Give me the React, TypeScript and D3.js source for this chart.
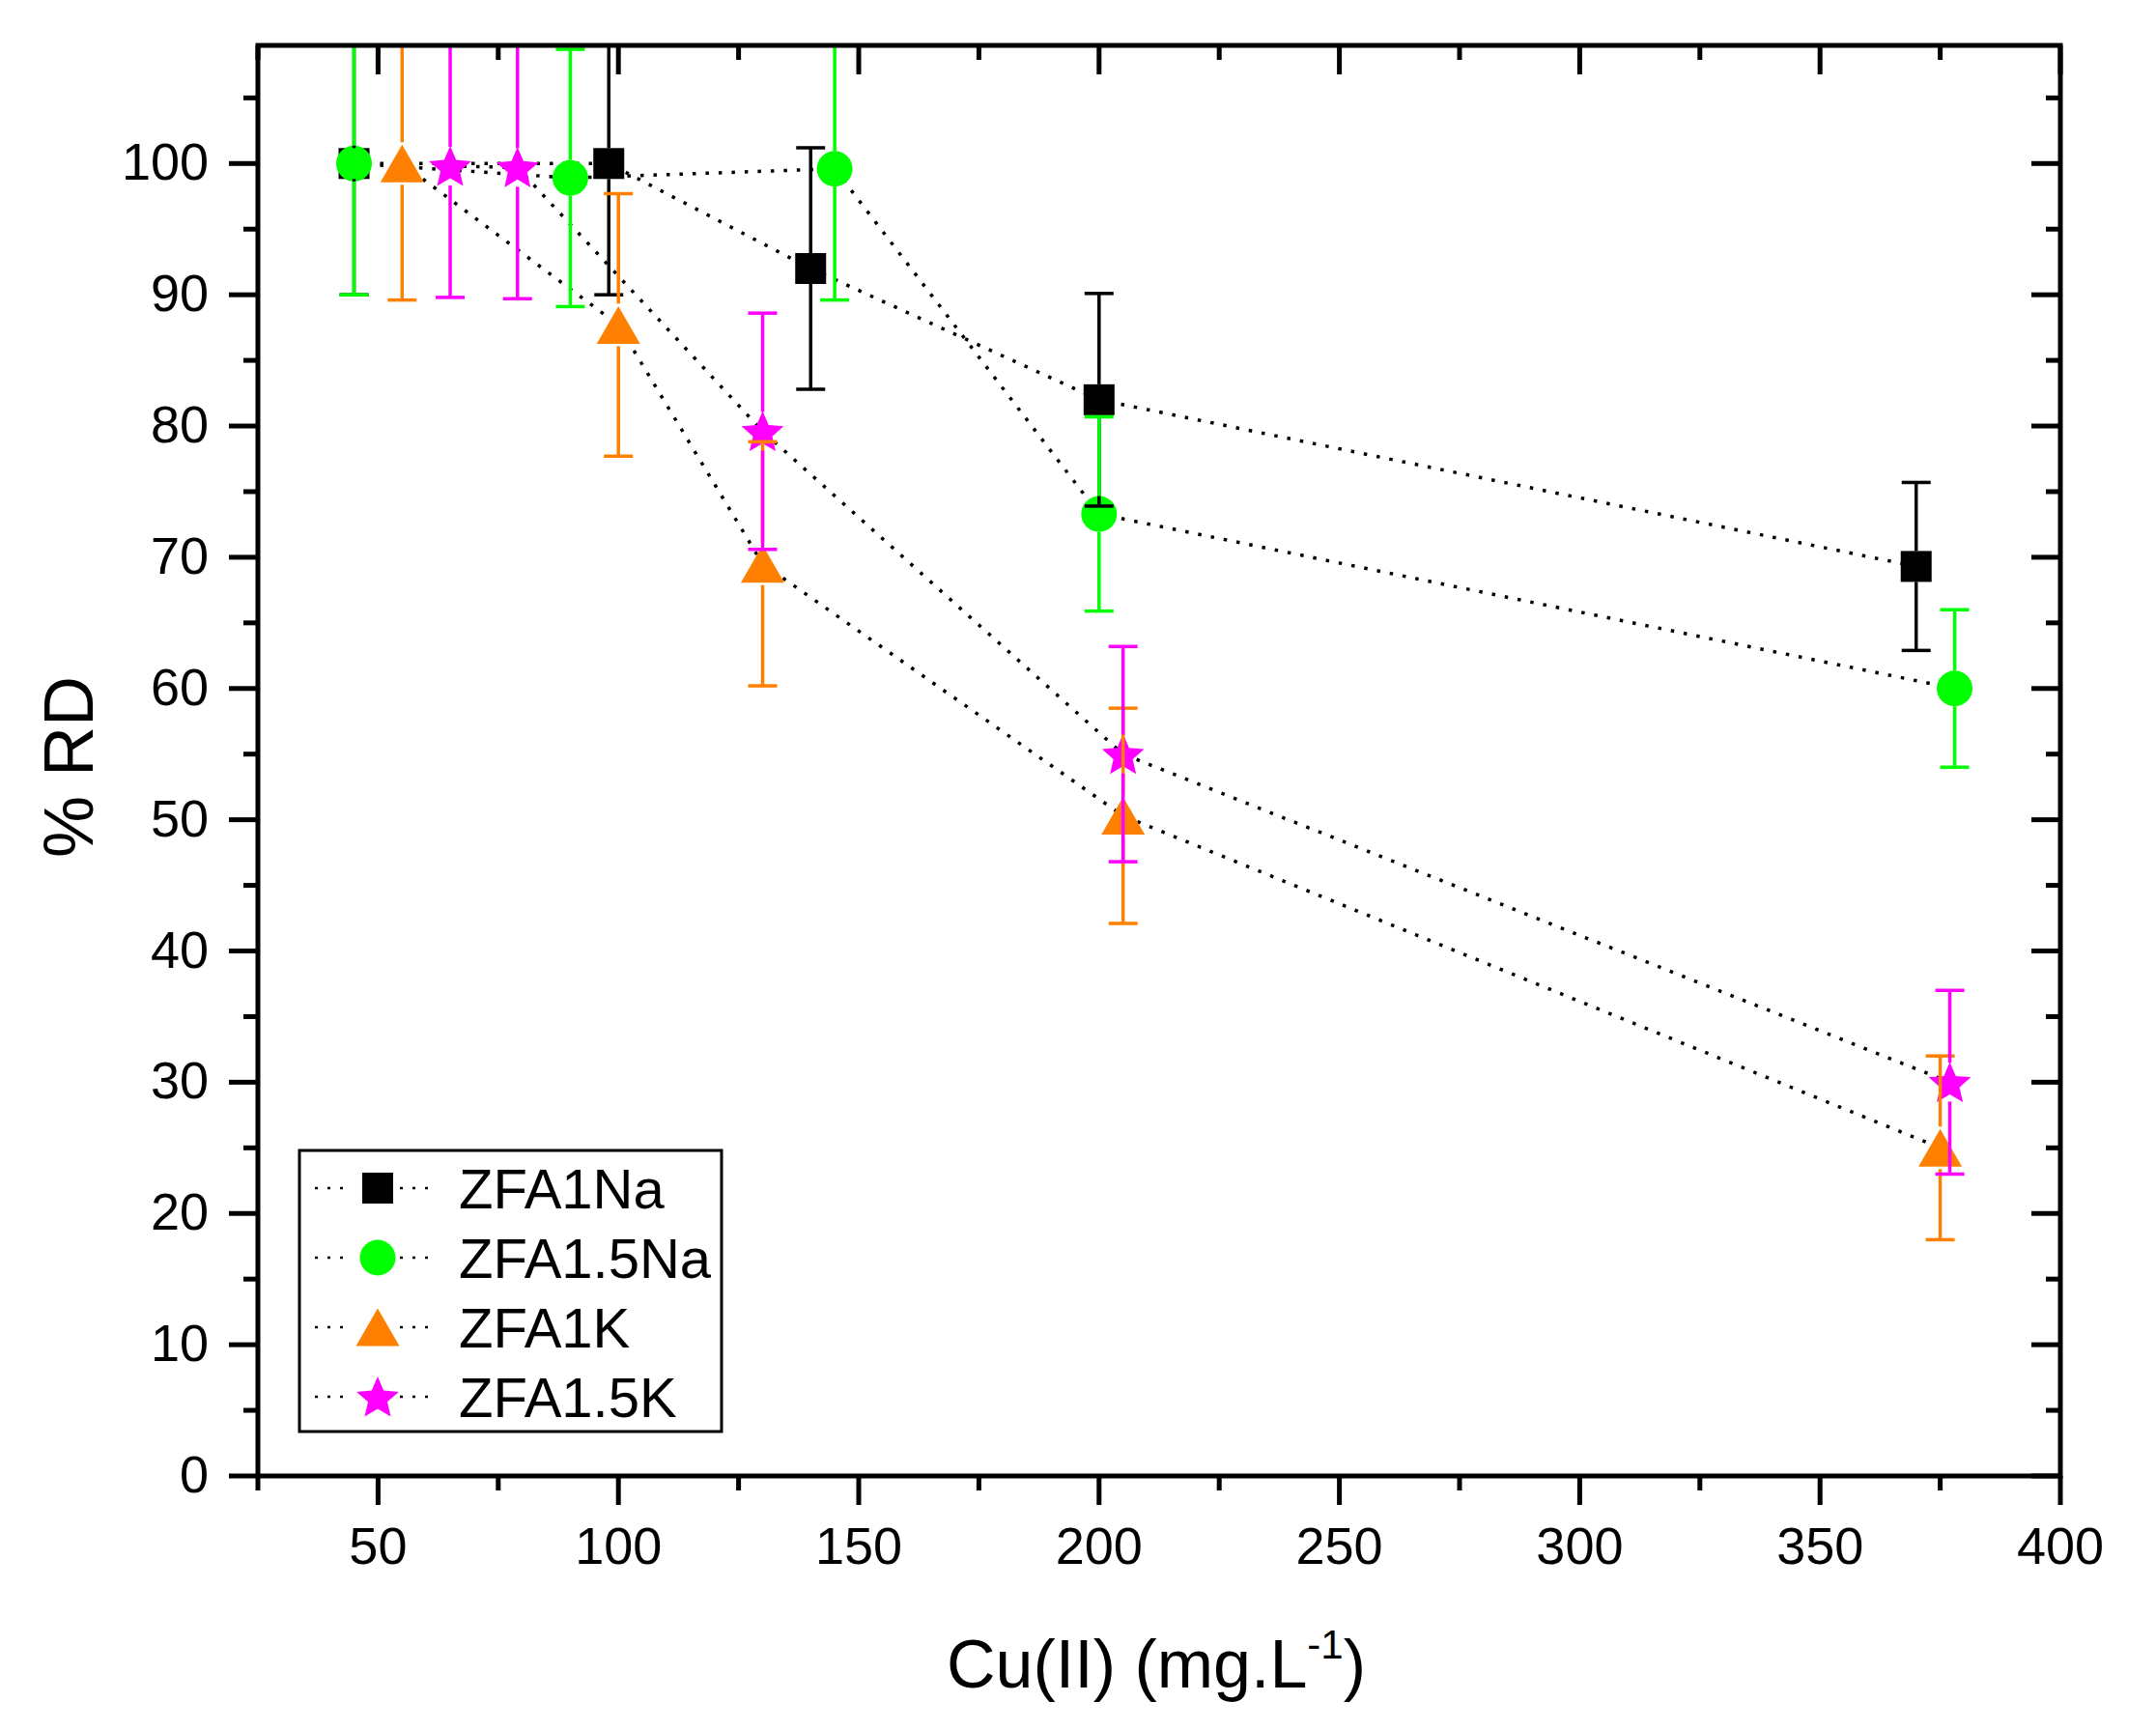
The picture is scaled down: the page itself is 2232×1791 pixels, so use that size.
import * as d3 from 'd3'

const W = 2232
const H = 1791
const M = { left: 267, right: 2133, top: 47, bottom: 1528 }

// data
const seriesNames = ['ZFA1Na', 'ZFA1.5Na', 'ZFA1K', 'ZFA1.5K']
const seriesColors = ['#000000', '#00ff00', '#ff8000', '#ff00ff']
const seriesShapes = ['square', 'circle', 'triangle', 'star']

const na1X = [45, 98, 140, 200, 370]
const na1Y = [100, 100, 92, 82, 69.3]
const na1Err = [10, 10, 9.2, 8.1, 6.4]

const na15X = [45, 90, 145, 200, 378]
const na15Y = [100, 98.9, 99.6, 73.3, 60]
const na15Err = [10, 9.8, 10, 7.4, 6]

const k1X = [55, 100, 130, 205, 375]
const k1Y = [100, 87.7, 69.5, 50.3, 25]
const k1Err = [10.4, 10, 9.3, 8.2, 7]

const k15X = [65, 79, 130, 205, 377]
const k15Y = [99.8, 99.7, 79.6, 55, 30]
const k15Err = [10, 10, 9, 8.2, 7]

const xMajor = [50, 100, 150, 200, 250, 300, 350, 400]
const xMinor = [25, 75, 125, 175, 225, 275, 325, 375]
const yMajor = [0, 10, 20, 30, 40, 50, 60, 70, 80, 90, 100]
const yMinor = [5, 15, 25, 35, 45, 55, 65, 75, 85, 95, 105]

const allX = [na1X, na15X, k1X, k15X]
const allY = [na1Y, na15Y, k1Y, k15Y]
const allErr = [na1Err, na15Err, k1Err, k15Err]

const FONT = '"Liberation Sans", Arial, sans-serif'

const x = d3.scaleLinear().domain([25, 400]).range([M.left, M.right])
const y = d3.scaleLinear().domain([0, 109]).range([M.bottom, M.top])

// fatter five-point star than d3.symbolStar, closer to Origin's
const starPts = d3.range(10).map((i) => {
  const r = i % 2 === 0 ? 23 : 10.5
  const a = (i * Math.PI) / 5
  return [r * Math.sin(a), -r * Math.cos(a)] as [number, number]
})
const starPath = d3.line().curve(d3.curveLinearClosed)(starPts) ?? ''
const gapOf: Record<string, number> = { square: 16, circle: 18.5, triangle: 22, star: 20 }

function Marker({ shape, cx, cy, color }: { shape: string; cx: number; cy: number; color: string }) {
  if (shape === 'square') return <rect x={cx - 16} y={cy - 16} width={32} height={32} fill={color} />
  if (shape === 'circle') return <circle cx={cx} cy={cy} r={18.5} fill={color} />
  if (shape === 'triangle') {
    const d = `M${cx},${cy - 19.5}L${cx + 22.5},${cy + 19.5}L${cx - 22.5},${cy + 19.5}Z`
    return <path d={d} fill={color} />
  }
  return <path d={starPath} transform={`translate(${cx},${cy + 2})`} fill={color} />
}

export default function App() {
  const line = d3
    .line<[number, number]>()
    .x((d) => x(d[0]))
    .y((d) => y(d[1]))

  const legendY = [1230, 1302, 1374, 1446]

  return (
    <svg
      width={W}
      height={H}
      style={{ position: 'absolute', left: 0, top: 0, background: '#fff', fontFamily: FONT }}
    >
      <defs>
        <clipPath id="plot">
          <rect x={M.left} y={M.top} width={M.right - M.left} height={M.bottom - M.top} />
        </clipPath>
      </defs>
      <rect width={W} height={H} fill="#fff" />

      {/* dotted connecting lines */}
      <g clipPath="url(#plot)">
        {allX.map((xs, s) => (
          <path
            key={`l${s}`}
            d={line(xs.map((v, i) => [v, allY[s][i]] as [number, number])) ?? ''}
            fill="none"
            stroke="#000"
            strokeWidth={3.5}
            strokeDasharray="3.5 10"
          />
        ))}
      </g>

      {/* markers */}
      <g>
        {allX.map((xs, s) =>
          xs.map((v, i) => (
            <Marker key={`m${s}-${i}`} shape={seriesShapes[s]} cx={x(v)} cy={y(allY[s][i])} color={seriesColors[s]} />
          ))
        )}
      </g>

      {/* error bars, on top of markers, skipping own marker */}
      <g clipPath="url(#plot)">
        {allX.map((xs, s) =>
          xs.map((v, i) => {
            const cx = x(v)
            const cy = y(allY[s][i])
            const top = y(allY[s][i] + allErr[s][i])
            const bot = y(allY[s][i] - allErr[s][i])
            const g = gapOf[seriesShapes[s]]
            const c = seriesColors[s]
            return (
              <g key={`e${s}-${i}`} stroke={c} strokeWidth={3.5}>
                <line x1={cx} x2={cx} y1={top} y2={cy - g} />
                <line x1={cx} x2={cx} y1={cy + g} y2={bot} />
                <line x1={cx - 15} x2={cx + 15} y1={top} y2={top} />
                <line x1={cx - 15} x2={cx + 15} y1={bot} y2={bot} />
              </g>
            )
          })
        )}
      </g>

      {/* axes frame */}
      <rect
        x={M.left}
        y={M.top}
        width={M.right - M.left}
        height={M.bottom - M.top}
        fill="none"
        stroke="#000"
        strokeWidth={5}
      />

      {/* ticks */}
      <g stroke="#000" strokeWidth={5}>
        {xMajor.map((t) => (
          <g key={`xM${t}`}>
            <line x1={x(t)} x2={x(t)} y1={M.bottom} y2={M.bottom + 30} />
            <line x1={x(t)} x2={x(t)} y1={M.top} y2={M.top + 30} />
          </g>
        ))}
        {xMinor.map((t) => (
          <g key={`xm${t}`}>
            <line x1={x(t)} x2={x(t)} y1={M.bottom} y2={M.bottom + 15} />
            <line x1={x(t)} x2={x(t)} y1={M.top} y2={M.top + 15} />
          </g>
        ))}
        {yMajor.map((t) => (
          <g key={`yM${t}`}>
            <line x1={M.left - 30} x2={M.left} y1={y(t)} y2={y(t)} />
            <line x1={M.right - 30} x2={M.right} y1={y(t)} y2={y(t)} />
          </g>
        ))}
        {yMinor.map((t) => (
          <g key={`ym${t}`}>
            <line x1={M.left - 15} x2={M.left} y1={y(t)} y2={y(t)} />
            <line x1={M.right - 15} x2={M.right} y1={y(t)} y2={y(t)} />
          </g>
        ))}
      </g>

      {/* tick labels */}
      <g fontSize={54} fill="#000">
        {xMajor.map((t) => (
          <text key={`xl${t}`} x={x(t)} y={1619} textAnchor="middle">
            {t}
          </text>
        ))}
        {yMajor.map((t) => (
          <text key={`yl${t}`} x={216} y={y(t) + 17} textAnchor="end">
            {t}
          </text>
        ))}
      </g>

      {/* axis titles */}
      <text transform="translate(96,794) rotate(-90)" textAnchor="middle" fontSize={72} fill="#000">
        % RD
      </text>
      <text x={1197} y={1747} textAnchor="middle" fontSize={70} fill="#000">
        Cu(II) (mg.L
        <tspan fontSize={42} dy={-30}>
          -1
        </tspan>
        <tspan dy={30}>)</tspan>
      </text>

      {/* legend */}
      <rect x={310} y={1191} width={437} height={291} fill="#fff" stroke="#000" strokeWidth={3} />
      {seriesNames.map((name, s) => (
        <g key={`lg${s}`}>
          <line x1={326} x2={358} y1={legendY[s]} y2={legendY[s]} stroke="#000" strokeWidth={2.5} strokeDasharray="3 10" />
          <line x1={414} x2={446} y1={legendY[s]} y2={legendY[s]} stroke="#000" strokeWidth={2.5} strokeDasharray="3 10" />
          <Marker shape={seriesShapes[s]} cx={391} cy={legendY[s]} color={seriesColors[s]} />
          <text x={475} y={legendY[s] + 21} fontSize={58} fill="#000">
            {name}
          </text>
        </g>
      ))}
    </svg>
  )
}
